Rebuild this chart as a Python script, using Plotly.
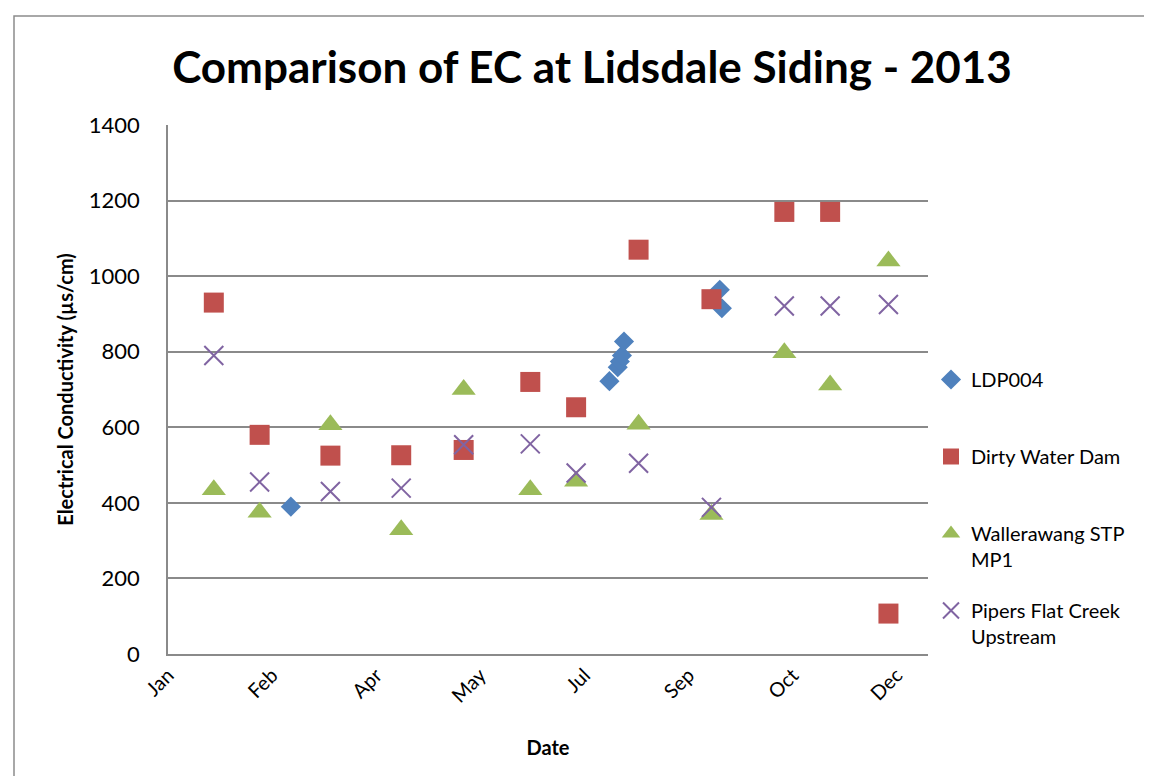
import plotly.graph_objects as go

# ---- data ----
ldp_dates = ["2013-03-01", "2013-08-01", "2013-08-05", "2013-08-06", "2013-08-07", "2013-08-08",
             "2013-09-23", "2013-09-24"]
ldp_vals = [390, 722, 759, 774, 790, 827, 964, 915]

dwd_dates = ["2013-01-23", "2013-02-14", "2013-03-20", "2013-04-23", "2013-05-23", "2013-06-24",
             "2013-07-16", "2013-08-15", "2013-09-19", "2013-10-24", "2013-11-15", "2013-12-13"]
dwd_vals = [930, 580, 525, 526, 540, 720, 653, 1070, 939, 1170, 1170, 107]

stp_dates = ["2013-01-23", "2013-02-14", "2013-03-20", "2013-04-23", "2013-05-23", "2013-06-24",
             "2013-07-16", "2013-08-15", "2013-09-19", "2013-10-24", "2013-11-15", "2013-12-13"]
stp_vals = [435, 375, 607, 329, 700, 435, 457, 608, 369, 797, 712, 1040]

pfc_dates = ["2013-01-23", "2013-02-14", "2013-03-20", "2013-04-23", "2013-05-23", "2013-06-24",
             "2013-07-16", "2013-08-15", "2013-09-19", "2013-10-24", "2013-11-15", "2013-12-13"]
pfc_vals = [790, 455, 430, 439, 554, 556, 479, 505, 388, 921, 921, 925]

series_names = ["LDP004", "Dirty Water Dam", "Wallerawang STP<br>MP1", "Pipers Flat Creek<br>Upstream"]
y_ticks = [0, 200, 400, 600, 800, 1000, 1200, 1400]

FONT = "Lato"
GRID = "#8a8a8a"

fig = go.Figure()
fig.add_trace(go.Scatter(x=ldp_dates, y=ldp_vals, mode="markers", name=series_names[0] + "<br> ",
                         legendgroup="a",
                         marker=dict(symbol="diamond", size=15.5, color="#4F81BD")))
fig.add_trace(go.Scatter(x=dwd_dates, y=dwd_vals, mode="markers", name=series_names[1] + "<br> ",
                         legendgroup="b",
                         marker=dict(symbol="square", size=20, color="#C0504D")))
fig.add_trace(go.Scatter(x=stp_dates, y=stp_vals, mode="markers", name=series_names[2],
                         legendgroup="c",
                         marker=dict(symbol="triangle-up", size=21, color="#9BBB59")))
fig.add_trace(go.Scatter(x=pfc_dates, y=pfc_vals, mode="markers", name=series_names[3],
                         legendgroup="d",
                         marker=dict(symbol="x-thin", size=19, color="#8064A2",
                                     line=dict(color="#8064A2", width=2))))

W, H = 1152, 776
L, R, T, B = 160, 232, 117, 130
pw, ph = W - L - R, H - T - B

def px2paper_x(px):
    return (px - L) / pw

def px2paper_y(py):
    return (H - B - py) / ph

fig.update_layout(
    width=W, height=H,
    margin=dict(l=L, r=R, t=T, b=B, autoexpand=False),
    paper_bgcolor="white", plot_bgcolor="white",
    font=dict(family=FONT, size=20, color="black"),
    title=dict(text="<b>Comparison of EC at Lidsdale Siding - 2013</b>",
               font=dict(family=FONT, size=44, color="black"),
               x=px2paper_x(584), xref="paper", xanchor="center",
               y=1 - 60 / H, yanchor="middle"),
    showlegend=True,
    legend=dict(x=px2paper_x(923), y=px2paper_y(352), xanchor="left", yanchor="top",
                valign="top", tracegroupgap=22, font=dict(family=FONT, size=20),
                bgcolor="rgba(0,0,0,0)"),
    xaxis=dict(type="date", range=["2013-01-01", "2014-01-01"],
               tick0="2013-01-01", dtick=50 * 86400000, tickformat="%b",
               tickangle=-45, showgrid=False, showline=True, linecolor=GRID, linewidth=1.5,
               ticks="", zeroline=False,
               title=dict(text="<b>Date</b>", font=dict(family=FONT, size=20), standoff=35),
               tickfont=dict(family=FONT, size=20)),
    yaxis=dict(range=[0, 1400], tickvals=y_ticks, showgrid=True, gridcolor=GRID, gridwidth=1.5,
               showline=True, linecolor=GRID, linewidth=1.5, ticks="", zeroline=False,
               title=dict(text="<b>Electrical Conductivity (µs/cm)</b>",
                          font=dict(family=FONT, size=20), standoff=10),
               tickfont=dict(family=FONT, size=22), ticklabelstandoff=22),
    shapes=[dict(type="rect", xref="paper", yref="paper",
                 x0=px2paper_x(6), x1=px2paper_x(1147), y0=px2paper_y(790), y1=px2paper_y(8),
                 line=dict(color="#8c8c8c", width=1.5), fillcolor="rgba(0,0,0,0)", layer="below")],
)

fig.write_html("out.html")
